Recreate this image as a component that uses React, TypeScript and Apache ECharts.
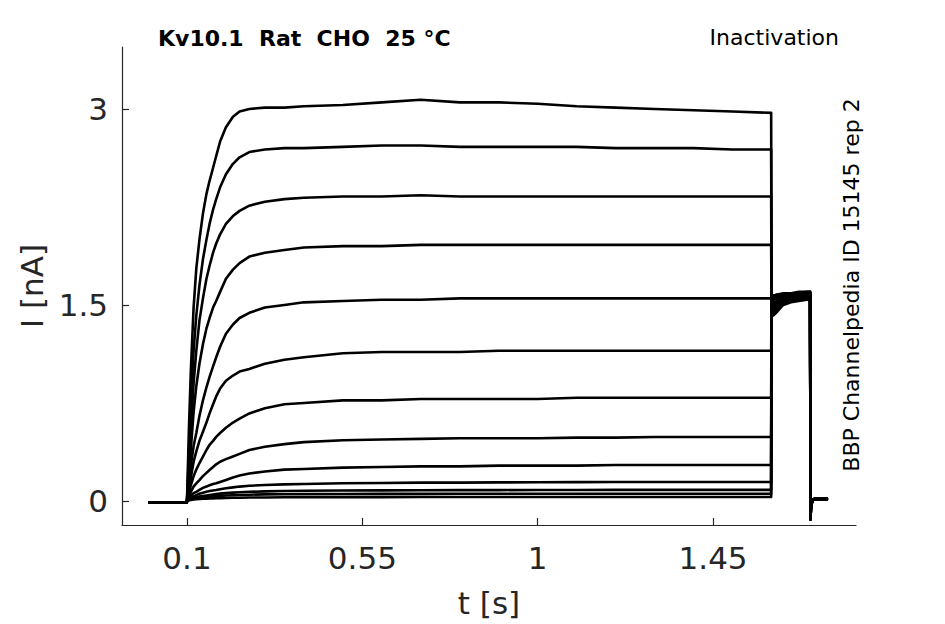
import React, { useEffect, useRef } from "react";
import * as echarts from "echarts";

// Time points (s) of the conditioning step
const PRE_T = [0, 0.0995, 0.1, 0.105, 0.11, 0.117, 0.124, 0.132, 0.141, 0.15, 0.158, 0.167, 0.175, 0.185, 0.2, 0.218, 0.235, 0.26, 0.3, 0.35, 0.4, 0.5, 0.6, 0.7, 0.8, 0.9, 1.0, 1.1, 1.2, 1.3, 1.4, 1.5, 1.599];

// Current (nA) of each sweep during the conditioning step
const pre1 = [-0.01, -0.01, 0.0, 0.55, 1.0, 1.48, 1.78, 2.0, 2.2, 2.35, 2.45, 2.55, 2.64, 2.75, 2.86, 2.94, 2.98, 3.0, 3.01, 3.01, 3.02, 3.03, 3.05, 3.07, 3.05, 3.05, 3.04, 3.02, 3.01, 3.0, 2.99, 2.98, 2.97];
const pre2 = [-0.01, -0.01, 0.0, 0.35, 0.75, 1.15, 1.42, 1.65, 1.85, 2.0, 2.12, 2.23, 2.31, 2.4, 2.5, 2.58, 2.63, 2.67, 2.69, 2.7, 2.7, 2.71, 2.72, 2.72, 2.71, 2.71, 2.71, 2.71, 2.7, 2.7, 2.7, 2.69, 2.69];
const pre3 = [-0.01, -0.01, 0.0, 0.25, 0.55, 0.9, 1.15, 1.38, 1.55, 1.7, 1.8, 1.9, 1.97, 2.04, 2.12, 2.18, 2.22, 2.26, 2.29, 2.31, 2.32, 2.33, 2.33, 2.34, 2.33, 2.33, 2.33, 2.33, 2.33, 2.33, 2.33, 2.33, 2.33];
const pre4 = [-0.01, -0.01, 0.0, 0.18, 0.4, 0.68, 0.88, 1.05, 1.2, 1.32, 1.4, 1.48, 1.53, 1.6, 1.7, 1.77, 1.82, 1.87, 1.9, 1.92, 1.94, 1.95, 1.95, 1.96, 1.96, 1.96, 1.96, 1.96, 1.96, 1.96, 1.96, 1.96, 1.96];
const pre5 = [-0.01, -0.01, 0.0, 0.12, 0.27, 0.42, 0.52, 0.65, 0.77, 0.87, 0.95, 1.03, 1.1, 1.18, 1.28, 1.35, 1.4, 1.44, 1.48, 1.5, 1.52, 1.53, 1.54, 1.54, 1.55, 1.55, 1.55, 1.55, 1.55, 1.55, 1.55, 1.55, 1.55];
const pre6 = [-0.01, -0.01, 0.0, 0.08, 0.18, 0.3, 0.38, 0.46, 0.53, 0.6, 0.67, 0.74, 0.8, 0.86, 0.92, 0.96, 0.99, 1.01, 1.05, 1.08, 1.1, 1.13, 1.14, 1.14, 1.14, 1.15, 1.15, 1.15, 1.15, 1.15, 1.15, 1.15, 1.15];
const pre7 = [-0.01, -0.01, 0.0, 0.06, 0.12, 0.19, 0.24, 0.29, 0.34, 0.39, 0.43, 0.46, 0.49, 0.52, 0.56, 0.6, 0.63, 0.67, 0.71, 0.74, 0.75, 0.77, 0.77, 0.78, 0.78, 0.78, 0.78, 0.79, 0.79, 0.79, 0.79, 0.79, 0.79];
const pre8 = [-0.01, -0.01, 0.0, 0.04, 0.07, 0.11, 0.135, 0.16, 0.19, 0.215, 0.237, 0.26, 0.28, 0.3, 0.32, 0.34, 0.36, 0.39, 0.415, 0.435, 0.45, 0.465, 0.47, 0.475, 0.48, 0.48, 0.48, 0.485, 0.485, 0.49, 0.49, 0.49, 0.49];
const pre9 = [-0.01, -0.01, 0.0, 0.02, 0.04, 0.06, 0.07, 0.085, 0.1, 0.11, 0.12, 0.13, 0.135, 0.145, 0.16, 0.18, 0.195, 0.21, 0.225, 0.24, 0.245, 0.255, 0.26, 0.265, 0.265, 0.27, 0.27, 0.27, 0.275, 0.275, 0.275, 0.275, 0.275];
const pre10 = [-0.01, -0.01, 0.0, 0.01, 0.02, 0.035, 0.045, 0.055, 0.063, 0.07, 0.076, 0.08, 0.084, 0.09, 0.097, 0.104, 0.11, 0.116, 0.122, 0.127, 0.13, 0.135, 0.137, 0.14, 0.14, 0.142, 0.143, 0.144, 0.145, 0.145, 0.145, 0.145, 0.145];
const pre11 = [-0.01, -0.01, 0.0, 0.01, 0.015, 0.022, 0.028, 0.033, 0.038, 0.042, 0.046, 0.05, 0.053, 0.056, 0.06, 0.064, 0.067, 0.07, 0.073, 0.076, 0.078, 0.08, 0.081, 0.082, 0.083, 0.083, 0.084, 0.084, 0.085, 0.085, 0.085, 0.085, 0.085];
const pre12 = [-0.01, -0.01, 0.0, 0.008, 0.012, 0.016, 0.02, 0.024, 0.027, 0.03, 0.033, 0.035, 0.037, 0.039, 0.042, 0.044, 0.046, 0.048, 0.05, 0.051, 0.052, 0.053, 0.054, 0.054, 0.055, 0.055, 0.055, 0.055, 0.055, 0.055, 0.055, 0.055, 0.055];
const pre13 = [-0.01, -0.01, 0.0, 0.005, 0.008, 0.011, 0.013, 0.015, 0.017, 0.018, 0.019, 0.02, 0.021, 0.022, 0.023, 0.024, 0.025, 0.026, 0.027, 0.028, 0.028, 0.029, 0.029, 0.03, 0.03, 0.03, 0.03, 0.03, 0.03, 0.03, 0.03, 0.03, 0.03];

// Test step
const TEST_T = [1.6, 1.605, 1.615, 1.63, 1.65, 1.67, 1.69, 1.699];
const test1 = [1.44, 1.42, 1.45, 1.5, 1.52, 1.53, 1.54, 1.54];
const test2 = [1.46, 1.44, 1.47, 1.51, 1.53, 1.54, 1.55, 1.55];
const test3 = [1.48, 1.46, 1.49, 1.52, 1.54, 1.55, 1.55, 1.56];
const test4 = [1.5, 1.48, 1.5, 1.53, 1.55, 1.56, 1.56, 1.56];
const test5 = [1.52, 1.5, 1.52, 1.54, 1.55, 1.56, 1.57, 1.57];
const test6 = [1.53, 1.52, 1.53, 1.55, 1.56, 1.57, 1.57, 1.57];
const test7 = [1.55, 1.54, 1.55, 1.56, 1.57, 1.58, 1.58, 1.58];
const test8 = [1.55, 1.55, 1.56, 1.57, 1.57, 1.58, 1.58, 1.59];
const test9 = [1.56, 1.55, 1.56, 1.57, 1.58, 1.58, 1.59, 1.59];
const test10 = [1.56, 1.56, 1.57, 1.57, 1.58, 1.59, 1.59, 1.59];
const test11 = [1.57, 1.56, 1.57, 1.58, 1.58, 1.59, 1.59, 1.6];
const test12 = [1.57, 1.57, 1.58, 1.58, 1.59, 1.59, 1.6, 1.6];
const test13 = [1.58, 1.57, 1.58, 1.59, 1.59, 1.6, 1.6, 1.6];

// Return to holding
const TAIL_T = [1.7, 1.701, 1.705, 1.71, 1.72, 1.745];
const TAIL_V = [-0.14, -0.05, 0.01, 0.015, 0.015, 0.015];

const PRE = [pre1, pre2, pre3, pre4, pre5, pre6, pre7, pre8, pre9, pre10, pre11, pre12, pre13];
const TEST = [test1, test2, test3, test4, test5, test6, test7, test8, test9, test10, test11, test12, test13];

const X_TICKS = [0.1, 0.55, 1, 1.45];
const Y_TICKS = [0, 1.5, 3];

const TITLE = "Kv10.1  Rat  CHO  25 °C";
const PROTOCOL = "Inactivation";
const SIDE = "BBP Channelpedia ID 15145 rep 2";

const FONT = "DejaVu Sans";
const AXIS_COLOR = "#262626";

export default function App() {
  const ref = useRef<HTMLDivElement>(null);
  useEffect(() => {
    if (!ref.current) return;
    const chart = echarts.init(ref.current, null, { renderer: "svg" });
    const series = PRE.map((pre, i) => {
      const data: number[][] = [];
      PRE_T.forEach((t, j) => data.push([t, pre[j]]));
      TEST_T.forEach((t, j) => data.push([t, TEST[i][j]]));
      TAIL_T.forEach((t, j) => data.push([t, TAIL_V[j]]));
      return {
        type: "line",
        data,
        showSymbol: false,
        symbol: "none",
        lineStyle: { color: "#000", width: 2.6, join: "round" },
        silent: true,
      };
    });
    chart.setOption({
      animation: false,
      backgroundColor: "#fff",
      textStyle: { fontFamily: FONT },
      grid: { left: 122, top: 47, right: 89, bottom: 99, containLabel: false, outerBoundsMode: "none" },
      xAxis: {
        type: "value",
        min: -0.0667,
        max: 1.8167,
        name: "t [s]",
        nameLocation: "middle",
        nameGap: 62,
        nameTextStyle: { fontSize: 31, color: AXIS_COLOR, fontFamily: FONT },
        axisLine: { show: true, onZero: false, lineStyle: { color: AXIS_COLOR, width: 1.2 } },
        axisTick: { show: true, inside: true, length: 7, customValues: X_TICKS, lineStyle: { color: AXIS_COLOR, width: 1.2 } },
        axisLabel: { customValues: X_TICKS, fontSize: 31, color: AXIS_COLOR, margin: 17, fontFamily: FONT },
        splitLine: { show: false },
      },
      yAxis: {
        type: "value",
        min: -0.184,
        max: 3.474,
        name: "I [nA]",
        nameLocation: "middle",
        nameGap: 72,
        nameTextStyle: { fontSize: 31, color: AXIS_COLOR, fontFamily: FONT },
        axisLine: { show: true, onZero: false, lineStyle: { color: AXIS_COLOR, width: 1.2 } },
        axisTick: { show: true, inside: true, length: 7, customValues: Y_TICKS, lineStyle: { color: AXIS_COLOR, width: 1.2 } },
        axisLabel: { customValues: Y_TICKS, fontSize: 31, color: AXIS_COLOR, margin: 14, fontFamily: FONT },
        splitLine: { show: false },
      },
      graphic: [
        {
          type: "text",
          left: 158,
          top: 27,
          style: { text: TITLE, fontSize: 22, fontWeight: "bold", fill: "#000", fontFamily: FONT },
        },
        {
          type: "text",
          right: 945 - 839,
          top: 26,
          style: { text: PROTOCOL, fontSize: 22, fill: "#000", fontFamily: FONT },
        },
        {
          type: "text",
          x: 851,
          y: 285,
          rotation: Math.PI / 2,
          style: { text: SIDE, fontSize: 22, fill: "#000", fontFamily: FONT, align: "center", verticalAlign: "middle" },
        },
      ],
      series,
    });
    return () => chart.dispose();
  }, []);
  return <div ref={ref} style={{ position: "absolute", left: 0, top: 0, width: 945, height: 624 }} />;
}
